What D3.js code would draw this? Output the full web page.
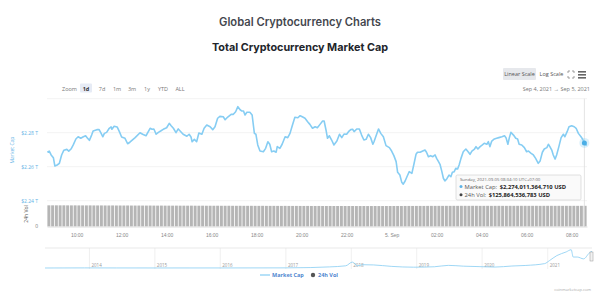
<!DOCTYPE html>
<html>
<head>
<meta charset="utf-8">
<script src="https://cdn.jsdelivr.net/npm/d3@7"></script>
<style>
  body { margin: 0; background: #fff; }
  svg { display: block; font-family: "Open Sans", sans-serif; }
</style>
</head>
<body>
<svg id="chart" width="600" height="302"></svg>
<script>
// market cap, minutes after Sep 4 2021 08:41 (UTC+7)
const capMinutes = [1,6,11,17,21,27,33,39,45,53,58,64,70,77,83,90,97,103,107,113,119,123,133,139,143,149,153,159,166,171,173,179,187,193,199,208,215,221,235,248,255,264,275,280,285,291,297,303,310,319,326,331,337,344,350,355,363,373,379,384,387,393,399,405,413,419,426,435,442,448,455,461,470,475,482,491,497,503,509,515,519,524,528,533,541,547,553,557,562,568,577,583,589,594,599,605,611,614,621,627,635,642,648,654,661,669,675,682,688,695,701,708,715,721,728,735,739,744,748,753,759,765,773,780,786,792,799,804,810,815,819,826,833,839,845,851,857,863,869,872,879,884,890,897,904,913,919,925,931,935,941,946,950,955,961,966,973,979,984,988,995,1002,1008,1012,1017,1023,1029,1035,1039,1044,1048,1053,1057,1061,1066,1072,1077,1081,1086,1090,1095,1099,1104,1110,1117,1124,1128,1133,1140,1144,1149,1155,1161,1166,1173,1177,1181,1186,1193,1199,1205,1213,1220,1224,1229,1233,1237,1244,1250,1255,1259,1266,1273,1279,1284,1291,1297,1303,1310,1315,1321,1326,1333,1337,1341,1346,1350,1355,1359,1365,1371,1377,1381,1387,1392,1399,1406,1411,1417,1424,1428,1433,1439];
// trillion USD
const capValues = [2.2685,2.2692,2.2669,2.2653,2.2604,2.2610,2.2620,2.2669,2.2697,2.2702,2.2692,2.2704,2.2728,2.2763,2.2776,2.2767,2.2776,2.2782,2.2771,2.2755,2.2786,2.2810,2.2818,2.2818,2.2802,2.2776,2.2796,2.2802,2.2826,2.2834,2.2820,2.2838,2.2834,2.2806,2.2775,2.2767,2.2735,2.2744,2.2771,2.2800,2.2791,2.2782,2.2826,2.2820,2.2822,2.2791,2.2802,2.2810,2.2820,2.2829,2.2855,2.2841,2.2826,2.2800,2.2822,2.2810,2.2791,2.2779,2.2791,2.2775,2.2747,2.2761,2.2747,2.2798,2.2791,2.2826,2.2845,2.2835,2.2818,2.2835,2.2885,2.2896,2.2894,2.2876,2.2892,2.2908,2.2908,2.2923,2.2953,2.2935,2.2928,2.2928,2.2904,2.2920,2.2920,2.2904,2.2796,2.2791,2.2728,2.2692,2.2688,2.2708,2.2747,2.2732,2.2688,2.2692,2.2685,2.2718,2.2708,2.2732,2.2776,2.2771,2.2796,2.2841,2.2891,2.2888,2.2900,2.2892,2.2885,2.2865,2.2849,2.2826,2.2835,2.2829,2.2849,2.2869,2.2869,2.2816,2.2767,2.2782,2.2757,2.2728,2.2751,2.2791,2.2771,2.2792,2.2791,2.2806,2.2818,2.2820,2.2806,2.2822,2.2822,2.2786,2.2757,2.2761,2.2791,2.2771,2.2732,2.2747,2.2791,2.2822,2.2796,2.2776,2.2724,2.2712,2.2692,2.2665,2.2630,2.2567,2.2551,2.2508,2.2497,2.2516,2.2547,2.2571,2.2561,2.2620,2.2673,2.2685,2.2685,2.2692,2.2698,2.2685,2.2659,2.2665,2.2659,2.2669,2.2649,2.2630,2.2614,2.2571,2.2532,2.2516,2.2528,2.2551,2.2541,2.2567,2.2571,2.2591,2.2587,2.2610,2.2649,2.2688,2.2704,2.2685,2.2673,2.2692,2.2704,2.2718,2.2704,2.2718,2.2728,2.2738,2.2732,2.2747,2.2718,2.2751,2.2763,2.2767,2.2771,2.2776,2.2782,2.2771,2.2732,2.2771,2.2802,2.2786,2.2767,2.2763,2.2732,2.2728,2.2712,2.2688,2.2692,2.2679,2.2669,2.2649,2.2620,2.2634,2.2685,2.2704,2.2712,2.2732,2.2718,2.2698,2.2669,2.2645,2.2669,2.2718,2.2771,2.2791,2.2776,2.2806,2.2835,2.2841,2.2835,2.2826,2.2796,2.2776,2.2763,2.2740,2.2724];
// 24h volume, one bar per 10 minutes, billion USD
const volValues = [
  128.9,128.8,128.8,128.7,128.9,128.6,128.5,128.6,128.4,128.4,128.3,128.5,128.2,128.1,128.2,128.0,127.9,128.1,127.8,127.8,127.7,127.9,127.6,127.5,
  127.6,127.4,127.3,127.5,127.2,127.1,127.3,127.0,127.0,126.9,127.1,126.8,126.8,126.7,126.9,126.6,126.5,126.7,126.4,126.4,126.3,126.5,126.2,126.2,
  126.3,126.1,126.0,126.2,125.9,125.9,126.0,125.8,125.7,125.9,125.6,125.6,125.7,125.5,125.4,125.6,125.3,125.3,125.4,125.2,125.1,125.3,125.0,125.0,
  125.1,124.9,124.9,125.0,124.8,124.8,124.9,124.7,124.7,124.8,124.6,124.6,124.7,124.5,124.6,124.7,124.5,124.6,124.8,124.7,124.9,125.0,124.9,125.1,
  125.2,125.1,125.3,125.4,125.3,125.5,125.6,125.5,125.7,125.6,125.8,125.7,125.9,125.8,126.0,125.9,125.8,126.0,125.9,125.7,125.8,125.9,125.7,125.8,
  125.9,125.8,125.7,125.9,125.8,125.9,126.0,125.9,125.8,125.9,126.0,125.8,125.9,126.0,125.9,125.8,125.9,125.8,125.9,125.8,125.9,125.8,125.9,125.9];
const capTicks = [2.24, 2.26, 2.28, 2.30];
const capTickLabels = ["$2.24 T", "$2.26 T", "$2.28 T", ""];
const zoomButtons = ["1d", "7d", "1m", "3m", "1y", "YTD", "ALL"];
// all-time history for the navigator, trillion USD
const navDates = ["2013-04-28","2013-12-04","2014-06-01","2015-01-15","2016-01-01","2016-06-15","2017-01-01","2017-05-20","2017-09-01","2017-12-01","2018-01-07","2018-02-06","2018-03-05","2018-05-05","2018-08-15","2018-12-15","2019-04-10","2019-06-26","2019-09-20","2019-12-15","2020-03-13","2020-06-15","2020-09-01","2020-12-15","2021-01-10","2021-02-21","2021-04-14","2021-05-12","2021-05-23","2021-06-15","2021-07-20","2021-08-23","2021-09-05"];
const navValues = [0.0016,0.013,0.008,0.005,0.007,0.012,0.018,0.06,0.15,0.3,0.81,0.3,0.45,0.42,0.22,0.11,0.17,0.36,0.25,0.19,0.13,0.27,0.35,0.6,1.0,1.7,2.2,2.5,1.5,1.5,1.25,2.1,2.3];
const navYears = ["2014","2015","2016","2017","2018","2019","2020","2021"];

const svg = d3.select("#chart");
const blue = "#86cdf3";
const start = new Date(2021, 8, 4, 8, 41);
const end = new Date(2021, 8, 5, 8, 41);
const t = m => new Date(start.getTime() + m * 60000);

// header
svg.append("text").attr("x", 300).attr("y", 26).attr("text-anchor", "middle")
  .style("font-family", "Inter").style("font-weight", 600).style("font-size", "11.2px")
  .attr("fill", "#44474e").text("Global Cryptocurrency Charts");
svg.append("text").attr("x", 300).attr("y", 51).attr("text-anchor", "middle")
  .style("font-family", "Inter").style("font-weight", 700).style("font-size", "10.8px")
  .attr("fill", "#22252b").text("Total Cryptocurrency Market Cap");

// scale buttons
svg.append("rect").attr("x", 503).attr("y", 68).attr("width", 33).attr("height", 12).attr("rx", 1).attr("fill", "#e6e8ec");
svg.append("text").attr("x", 519.5).attr("y", 76).attr("text-anchor", "middle").style("font-size", "5.5px").attr("fill", "#555").text("Linear Scale");
svg.append("text").attr("x", 551.5).attr("y", 76).attr("text-anchor", "middle").style("font-size", "5.5px").attr("fill", "#555").text("Log Scale");
const fs = svg.append("g").attr("stroke", "#888").attr("stroke-width", 0.8).attr("fill", "none");
[[568,71,1,1],[574,71,-1,1],[568,78,1,-1],[574,78,-1,-1]].forEach(([x, y, dx, dy]) => {
  fs.append("path").attr("d", `M${x},${y + dy * 2}V${y}H${x + dx * 2}`);
});
[71, 74, 77].forEach(y => svg.append("rect").attr("x", 578).attr("y", y).attr("width", 8).attr("height", 1.6).attr("fill", "#666"));

// zoom buttons
svg.append("text").attr("x", 62).attr("y", 90.5).style("font-size", "5.5px").attr("fill", "#777").text("Zoom");
const zx = [86, 102, 117, 132, 147, 163, 180];
zoomButtons.forEach((b, i) => {
  if (i === 0) svg.append("rect").attr("x", zx[i] - 6).attr("y", 83.5).attr("width", 12).attr("height", 9).attr("rx", 1).attr("fill", "#e6ebf5");
  svg.append("text").attr("x", zx[i]).attr("y", 90.5).attr("text-anchor", "middle")
    .style("font-size", "5.5px").style("font-weight", i === 0 ? 700 : 400)
    .attr("fill", i === 0 ? "#333" : "#777").text(b);
});
svg.append("text").attr("x", 590).attr("y", 90.5).attr("text-anchor", "end").style("font-size", "5.5px")
  .attr("fill", "#777").text("Sep 4, 2021   \u2192   Sep 5, 2021");

// scales
const x = d3.scaleTime().domain([start, end]).range([47, 587]);
const y = d3.scaleLinear().domain([2.24, 2.30]).range([200.7, 98.7]);
const yv = d3.scaleLinear().domain([0, 140]).range([226.5, 203.5]);

// grid
svg.append("g").selectAll("line").data(capTicks).join("line")
  .attr("x1", 47).attr("x2", 587).attr("y1", d => y(d)).attr("y2", d => y(d))
  .attr("stroke", "#efefef").attr("stroke-width", 0.8);
svg.append("g").selectAll("text").data(capTicks).join("text")
  .attr("x", 38).attr("y", d => y(d) + 2).attr("text-anchor", "end")
  .style("font-size", "5px").attr("fill", "#5fb3e6")
  .text((d, i) => capTickLabels[i]);
svg.append("text").attr("transform", "translate(14,150) rotate(-90)").attr("text-anchor", "middle")
  .style("font-size", "5px").attr("fill", "#5fb3e6").text("Market Cap");
svg.append("text").attr("transform", "translate(28,214) rotate(-90)").attr("text-anchor", "middle")
  .style("font-size", "5px").attr("fill", "#555").text("24h Vol");
svg.append("text").attr("x", 38).attr("y", 228).attr("text-anchor", "end")
  .style("font-size", "5px").attr("fill", "#777").text("0");

// volume bars
const bw = x(t(10)) - x(t(0));
svg.append("g").selectAll("rect").data(volValues).join("rect")
  .attr("x", (d, i) => x(t(i * 10)) + 0.4)
  .attr("width", bw - 0.8)
  .attr("y", d => yv(d))
  .attr("height", d => yv(0) - yv(d))
  .attr("fill", "#b5b5b5");

// x axis
const xAxis = d3.axisBottom(x)
  .ticks(d3.timeHour.every(2))
  .tickSize(0)
  .tickFormat(d => d.getHours() === 0 ? "5. Sep" : d3.timeFormat("%H:%M")(d));
const xg = svg.append("g").attr("transform", "translate(0,226.5)").call(xAxis);
xg.select(".domain").attr("stroke", "#ddd");
xg.selectAll(".tick text").attr("dy", 7.5).style("font-size", "5px").attr("fill", "#888");

// crosshair
const hoverIdx = capMinutes.indexOf(1433);
const hx = x(t(capMinutes[hoverIdx]));
svg.append("line").attr("x1", hx).attr("x2", hx).attr("y1", 98.7).attr("y2", 226.5)
  .attr("stroke", "#ddd").attr("stroke-width", 0.8);

// market cap line
const line = d3.line().x((d, i) => x(t(capMinutes[i]))).y(d => y(d)).curve(d3.curveLinear);
svg.append("path").datum(capValues).attr("d", line)
  .attr("fill", "none").attr("stroke", blue).attr("stroke-width", 1.6).attr("stroke-linejoin", "round");
svg.append("circle").attr("cx", hx).attr("cy", y(capValues[hoverIdx])).attr("r", 5).attr("fill", blue).attr("opacity", 0.3);
svg.append("circle").attr("cx", hx).attr("cy", y(capValues[hoverIdx])).attr("r", 2.5).attr("fill", "#4aaee6");

// tooltip
const tip = svg.append("g").attr("transform", "translate(456,175)");
tip.append("rect").attr("width", 125).attr("height", 25).attr("rx", 1.5)
  .attr("fill", "rgba(250,250,250,0.95)").attr("stroke", "#ccc").attr("stroke-width", 0.6);
tip.append("text").attr("x", 4).attr("y", 5.8).style("font-size", "4.3px").attr("fill", "#666")
  .text("Sunday, 2021-09-05 08:34:10 UTC+07:00");
const tipRow = (yy, col, label, val) => {
  tip.append("circle").attr("cx", 5).attr("cy", yy - 2).attr("r", 1.5).attr("fill", col);
  const lab = tip.append("text").attr("x", 8.5).attr("y", yy).style("font-size", "5.8px").attr("fill", "#555").text(label);
  const w = lab.node().getComputedTextLength();
  tip.append("text").attr("x", 8.5 + w + 2.5).attr("y", yy).style("font-size", "5.8px")
    .style("font-weight", 700).attr("fill", "#222").text(val);
};
tipRow(13.5, "#5fb3e6", "Market Cap:", "$2,274,011,364,710 USD");
tipRow(21.7, "#444", "24h Vol:", "$125,864,536,783 USD");

// navigator
const nx = d3.scaleTime().domain([new Date(2013, 3, 28), new Date(2021, 8, 5)]).range([45, 592]);
const ny = d3.scaleLinear().domain([0, 2.6]).range([268, 249]);
svg.append("line").attr("x1", 45).attr("x2", 592).attr("y1", 248).attr("y2", 248).attr("stroke", "#e3e3e3").attr("stroke-width", 0.8);
navYears.forEach(yr => {
  const xx = nx(new Date(+yr, 0, 1));
  svg.append("line").attr("x1", xx).attr("x2", xx).attr("y1", 248).attr("y2", 269).attr("stroke", "#e6e6e6").attr("stroke-width", 0.6);
  svg.append("text").attr("x", xx + 2).attr("y", 266.5).style("font-size", "4.5px").attr("fill", "#999").text(yr);
});
const navLine = d3.line().x((d, i) => nx(new Date(navDates[i]))).y(d => ny(d)).curve(d3.curveMonotoneX);
svg.append("path").datum(navValues).attr("d", navLine)
  .attr("fill", "none").attr("stroke", blue).attr("stroke-width", 0.8);
svg.append("rect").attr("x", 590).attr("y", 252).attr("width", 3).attr("height", 9).attr("fill", "#f2f2f2").attr("stroke", "#999").attr("stroke-width", 0.5);

// legend
svg.append("line").attr("x1", 260).attr("x2", 270).attr("y1", 275).attr("y2", 275).attr("stroke", blue).attr("stroke-width", 1.2);
svg.append("text").attr("x", 272).attr("y", 277).style("font-size", "5.5px").style("font-weight", 700).attr("fill", "#4f86cf").text("Market Cap");
svg.append("circle").attr("cx", 313).attr("cy", 275).attr("r", 2.2).attr("fill", "#555");
svg.append("text").attr("x", 318).attr("y", 277).style("font-size", "5.5px").style("font-weight", 700).attr("fill", "#4f86cf").text("24h Vol");

svg.append("text").attr("x", 591).attr("y", 291).attr("text-anchor", "end").style("font-size", "4px").attr("fill", "#aaa").text("coinmarketcap.com");
</script>
</body>
</html>
